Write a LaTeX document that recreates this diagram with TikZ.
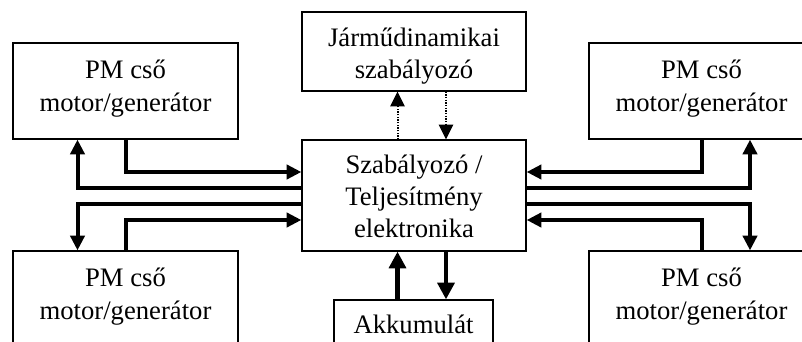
\documentclass[tikz,border=0pt]{standalone}
\usepackage{fontspec}
\setmainfont{Liberation Serif}
\usetikzlibrary{arrows.meta,calc}

\begin{document}
\begin{tikzpicture}[x=0.75pt,y=-0.75pt,
  box/.style={draw,line width=0.9pt,inner sep=0pt},
  pmbox/.style={box,minimum width=168.75pt,minimum height=72pt},
  lbl/.style={anchor=base,inner sep=0pt,font=\fontsize{20}{24}\selectfont},
  wire/.style={line width=3pt},
  bus/.style={line width=3.7pt},
  dotline/.style={line width=1.5pt,dash pattern=on 1pt off 1pt},
  tip/.style={-{Triangle[length=11pt,width=10.5pt]}},
  bigtip/.style={-{Triangle[length=12.5pt,width=12.5pt]}}]
\clip (0,0) rectangle (802,342);

% blocks
\node[box,minimum width=168pt,minimum height=59.25pt] (jd) at (414,51.5) {};
\node[box,minimum width=168pt,minimum height=83.25pt] (ctrl) at (414,195.5) {};
\node[box,minimum width=119.25pt,minimum height=34.5pt] (akku) at (413.5,323) {};
\node[pmbox] (pmtl) at (125.5,91)  {};
\node[pmbox] (pmbl) at (125.5,299) {};
\node[pmbox] (pmtr) at (701.5,91)  {};
\node[pmbox] (pmbr) at (701.5,299) {};

% block texts, one node per line, set on its baseline
\node[lbl] (jd1) at ($(jd.north)+(0,34.7)$) {Járműdinamikai};
\node[lbl] (jd2) at ($(jd.north)+(0,66.7)$) {szabályozó};
\node[lbl] (ctrl1) at ($(ctrl.north)+(0,34)$) {Szabályozó /};
\node[lbl] (ctrl2) at ($(ctrl.north)+(0,66)$) {Teljesítmény};
\node[lbl] (ctrl3) at ($(ctrl.north)+(0,98)$) {elektronika};
\node[lbl] (akku1) at ($(akku.north)+(0,34)$) {Akkumulát};
\foreach \b in {pmtl,pmbl,pmtr,pmbr}{
  \node[lbl] (\b1) at ($(\b.north)+(0,36.3)$) {PM cső};
  \node[lbl] (\b2) at ($(\b.north)+(0,68.7)$) {motor/generátor};
}

% power lines, left side
\draw[wire,tip] (pmtl.south) |- ($(ctrl.west)+(0,-23.5)$);
\draw[wire,tip] ($(ctrl.west)+(0,-8)$) -| ($(pmtl.south)+(-48,0)$);
\draw[wire,tip] ($(ctrl.west)+(0,8)$) -| ($(pmbl.north)+(-48,0)$);
\draw[wire,tip] (pmbl.north) |- ($(ctrl.west)+(0,24.5)$);

% power lines, right side
\draw[wire,tip] (pmtr.south) |- ($(ctrl.east)+(0,-23.5)$);
\draw[wire,tip] ($(ctrl.east)+(0,-8)$) -| ($(pmtr.south)+(48.5,0)$);
\draw[wire,tip] ($(ctrl.east)+(0,8)$) -| ($(pmbr.north)+(48.5,0)$);
\draw[wire,tip] (pmbr.north) |- ($(ctrl.east)+(0,24.5)$);

% signal lines to the vehicle dynamics controller
\draw[dotline,tip] ($(ctrl.north)+(-16.5,0)$) -- ($(jd.south)+(-16.5,0)$);
\draw[dotline,tip] ($(jd.south)+(32,0)$) -- ($(ctrl.north)+(32,0)$);

% battery
\draw[bus,bigtip] ($(akku.north)+(-16,0)$) -- ($(ctrl.south)+(-16.5,0)$);
\draw[bus,bigtip] ($(ctrl.south)+(32,0)$) -- ($(akku.north)+(32.5,0)$);
\end{tikzpicture}
\end{document}
